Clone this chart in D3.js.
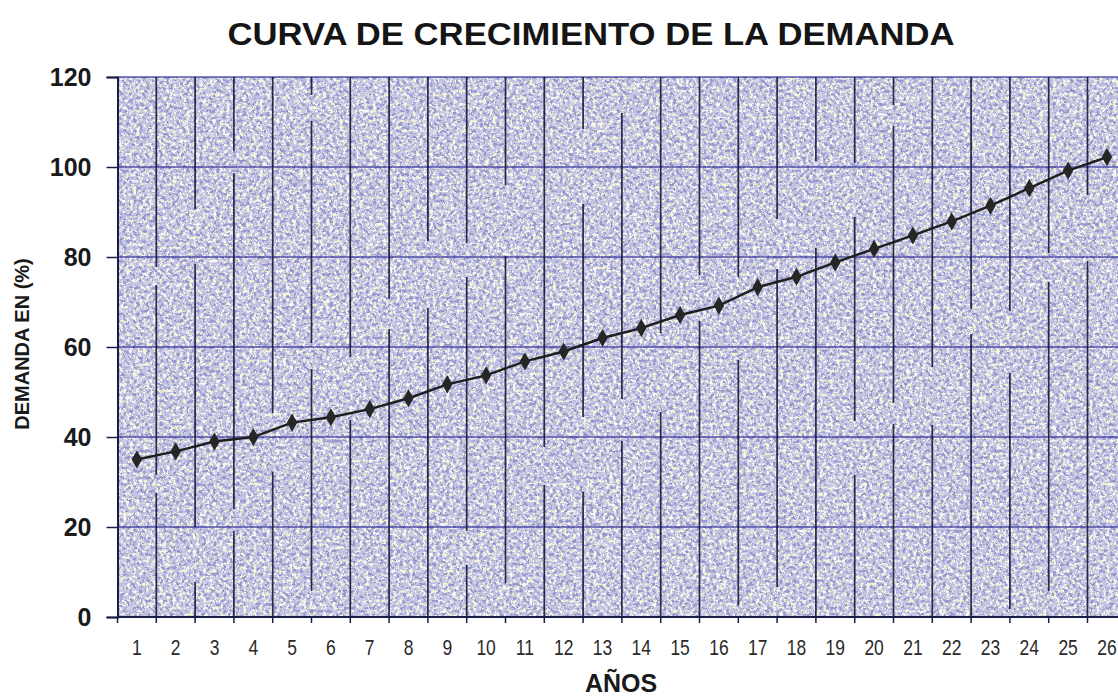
<!DOCTYPE html>
<html>
<head>
<meta charset="utf-8">
<script src="https://cdn.jsdelivr.net/npm/d3@7"></script>
<style>
    body { margin: 0; background: #ffffff; }
    svg { display: block; font-family: "Liberation Sans", Arial, sans-serif; }
</style>
</head>
<body>
<div id="chart"></div>
<script>
const years = d3.range(1, 27).map(String);
const demand = [35, 36.8, 39, 40, 43.2, 44.4, 46.2, 48.6, 51.7, 53.7, 56.8, 59, 62, 64.2, 67.1, 69.2,
    73.3, 75.6, 78.8, 81.8, 84.8, 87.9, 91.4, 95.3, 99.2, 102.2];
const yTicks = [0, 20, 40, 60, 80, 100, 120];

const chartTitle = "CURVA DE CRECIMIENTO DE LA DEMANDA";
const yTitle = "DEMANDA EN (%)";
const xTitle = "AÑOS";

const svgWidth = 1118, svgHeight = 700;
const plotLeft = 117.5, step = 38.8;

const svg = d3.select("#chart")
    .append("svg")
    .attr("width", svgWidth)
    .attr("height", svgHeight);

const xScale = d3.scaleBand().domain(years).range([plotLeft, plotLeft + step * years.length]);
const yScale = d3.scaleLinear().domain([0, 120]).range([617, 77]);

// scanned paper texture
const defs = svg.append("defs");
const filter = defs.append("filter")
    .attr("id", "grain")
    .attr("x", 0).attr("y", 0).attr("width", "100%").attr("height", "100%");
filter.append("feTurbulence")
    .attr("type", "fractalNoise")
    .attr("baseFrequency", 0.3)
    .attr("numOctaves", 3)
    .attr("seed", 7)
    .attr("result", "t");
filter.append("feColorMatrix").attr("in", "t").attr("type", "matrix")
    .attr("values", "0 0 0 0 0.30  0 0 0 0 0.31  0 0 0 0 0.60  -8 0 0 0 3.75")
    .attr("result", "blue");
filter.append("feColorMatrix").attr("in", "t").attr("type", "matrix")
    .attr("values", "0 0 0 0 0.93  0 0 0 0 0.92  0 0 0 0 0.64  0 -8 0 0 3.55")
    .attr("result", "yellow");
filter.append("feColorMatrix").attr("in", "t").attr("type", "matrix")
    .attr("values", "0 0 0 0 0.97  0 0 0 0 0.97  0 0 0 0 0.99  0 0 -8 0 3.6")
    .attr("result", "white");
const merge = filter.append("feMerge");
merge.append("feMergeNode").attr("in", "SourceGraphic");
merge.append("feMergeNode").attr("in", "white");
merge.append("feMergeNode").attr("in", "yellow");
merge.append("feMergeNode").attr("in", "blue");

const x0 = xScale.range()[0], x1 = xScale.range()[1];

svg.append("rect")
    .attr("x", x0)
    .attr("y", yScale(120))
    .attr("width", x1 - x0)
    .attr("height", yScale(0) - yScale(120))
    .attr("fill", "#c2c2e2")
    .attr("filter", "url(#grain)");

// horizontal grid
svg.append("g")
    .selectAll("line")
    .data(yTicks.slice(1))
    .join("line")
    .attr("x1", x0)
    .attr("x2", x1)
    .attr("y1", d => yScale(d))
    .attr("y2", d => yScale(d))
    .attr("stroke", "#2f2f9a")
    .attr("stroke-opacity", 0.8)
    .attr("stroke-width", 1.6);

// vertical grid, broken like the photocopy
svg.append("g")
    .selectAll("line")
    .data(years.slice(1))
    .join("line")
    .attr("x1", d => xScale(d))
    .attr("x2", d => xScale(d))
    .attr("y1", yScale(120))
    .attr("y2", yScale(0))
    .attr("stroke", "#16163a")
    .attr("stroke-opacity", 0.9)
    .attr("stroke-width", 1.7)
    .attr("stroke-dasharray", (d, i) => `${190 + (i * 73) % 260} ${18 + (i * 37) % 70}`)
    .attr("stroke-dashoffset", (d, i) => (i * 131) % 320);

// y axis
const yAxis = d3.axisLeft(yScale).tickValues(yTicks).tickSize(11).tickPadding(15);
const yG = svg.append("g")
    .attr("transform", `translate(${x0},0)`)
    .call(yAxis);
yG.select(".domain").attr("stroke", "#1c1c48").attr("stroke-width", 2);
yG.selectAll(".tick line").attr("stroke", "#1c1c48").attr("stroke-width", 1.5);
yG.selectAll(".tick text")
    .attr("font-size", 25)
    .attr("font-weight", "bold")
    .attr("fill", "#1a1a1a")
    .attr("font-family", "'Liberation Sans', Arial, sans-serif");

// x axis: ticks on the category boundaries
svg.append("line")
    .attr("x1", x0).attr("x2", x1)
    .attr("y1", yScale(0)).attr("y2", yScale(0))
    .attr("stroke", "#1c1c48")
    .attr("stroke-width", 2);

svg.append("g")
    .selectAll("line")
    .data(years)
    .join("line")
    .attr("x1", d => xScale(d))
    .attr("x2", d => xScale(d))
    .attr("y1", yScale(0))
    .attr("y2", yScale(0) + 6)
    .attr("stroke", "#1c1c48")
    .attr("stroke-width", 1.5);

svg.append("g")
    .selectAll("text")
    .data(years)
    .join("text")
    .attr("transform", d => `translate(${xScale(d) + xScale.bandwidth() / 2},655) scale(0.92,1.2)`)
    .attr("text-anchor", "middle")
    .attr("font-size", 19)
    .attr("fill", "#2a2a2a")
    .text(d => d);

// data line
const line = d3.line()
    .x((d, i) => xScale(years[i]) + xScale.bandwidth() / 2)
    .y(d => yScale(d));

svg.append("path")
    .datum(demand)
    .attr("d", line)
    .attr("fill", "none")
    .attr("stroke", "#1e1e1e")
    .attr("stroke-width", 2.5);

svg.append("g")
    .selectAll("path")
    .data(demand)
    .join("path")
    .attr("transform", (d, i) => `translate(${xScale(years[i]) + xScale.bandwidth() / 2},${yScale(d)})`)
    .attr("d", d3.symbol(d3.symbolDiamond, 95))
    .attr("fill", "#262626");

// titles
svg.append("text")
    .attr("x", 591)
    .attr("y", 45)
    .attr("text-anchor", "middle")
    .attr("font-size", 32)
    .attr("font-weight", "bold")
    .attr("fill", "#151515")
    .attr("textLength", 727)
    .attr("lengthAdjust", "spacingAndGlyphs")
    .text(chartTitle);

svg.append("text")
    .attr("transform", "translate(29,344) rotate(-90)")
    .attr("text-anchor", "middle")
    .attr("font-size", 20)
    .attr("font-weight", "bold")
    .attr("fill", "#1a1a1a")
    .text(yTitle);

svg.append("text")
    .attr("x", 621)
    .attr("y", 692)
    .attr("text-anchor", "middle")
    .attr("font-size", 25)
    .attr("font-weight", "bold")
    .attr("fill", "#1a1a1a")
    .text(xTitle);
</script>
</body>
</html>
